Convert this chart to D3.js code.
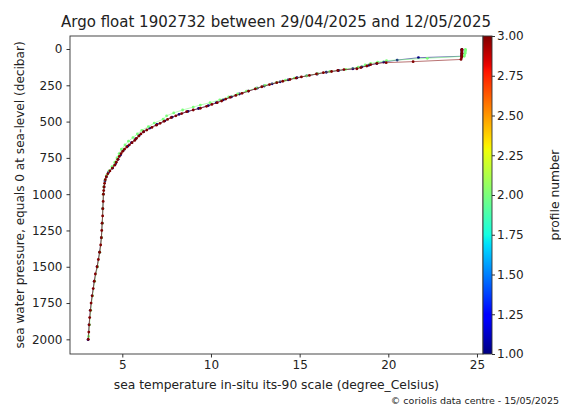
<!DOCTYPE html>
<html>
<head>
<meta charset="utf-8">
<script src="https://cdn.jsdelivr.net/npm/d3@7"></script>
<style>
  body { margin: 0; background: #fff; }
  text { font-family: "DejaVu Sans", sans-serif; fill: #222; }
</style>
</head>
<body>
<div id="chart"></div>
<script>
// profile numbers (colour of each profile on the jet colour bar)
const profileIds = [1, 2, 3];

// profile 1 : pressure (decibar) / temperature (degree_Celsius)
const pres1 = [2, 10, 20, 30, 40, 50, 60, 76, 90, 100, 112, 124, 136, 148, 160, 172, 185, 198, 212, 226,
  240, 255, 270, 290, 310, 330, 350, 370, 390, 410, 430, 450, 470, 495, 520, 545, 570, 595, 620, 645,
  670, 700, 730, 760, 790, 820, 850, 880, 910, 950, 1000, 1100, 1200, 1300, 1400, 1500, 1600, 1700,
  1800, 1900, 2002];
const temp1 = [24.15, 24.15, 24.15, 24.15, 24.14, 24.13, 21.7, 20.5, 19.74, 19.35, 18.9, 18.5, 18.0, 17.2, 16.5, 16.0, 15.4, 14.85, 14.35, 13.9,
  13.45, 13.0, 12.6, 12.1, 11.6, 11.15, 10.7, 10.3, 9.85, 9.3, 8.7, 8.2, 7.8, 7.4, 6.95, 6.55, 6.2, 5.95, 5.75, 5.52,
  5.3, 5.05, 4.9, 4.76, 4.62, 4.45, 4.22, 4.1, 4.02, 3.97, 3.94, 3.9, 3.87, 3.82, 3.72, 3.58, 3.42, 3.3,
  3.2, 3.13, 3.07];

// profile 2
const pres2 = [2, 10, 20, 30, 40, 50, 64, 80, 90, 100, 110, 125, 140, 155, 170, 185, 200, 215, 230, 250,
  270, 290, 310, 330, 350, 370, 386, 400, 420, 440, 460, 484, 510, 535, 560, 585, 610, 635, 661, 690,
  720, 750, 780, 810, 840, 870, 900, 950, 1000, 1100, 1200, 1300, 1400, 1500, 1600, 1700, 1800, 1900, 1980];
const temp2 = [24.35, 24.35, 24.34, 24.33, 24.3, 24.28, 22.2, 19.9, 19.4, 19.0, 18.7, 18.3, 17.6, 16.7, 16.0, 15.4, 14.7, 14.2, 13.7, 13.05,
  12.55, 12.0, 11.5, 11.0, 10.5, 9.95, 9.4, 9.0, 8.4, 7.9, 7.5, 7.3, 6.8, 6.47, 6.1, 5.85, 5.6, 5.35, 5.15, 4.95,
  4.82, 4.7, 4.58, 4.42, 4.25, 4.12, 4.03, 3.96, 3.93, 3.9, 3.87, 3.83, 3.73, 3.6, 3.44, 3.32, 3.22, 3.15, 3.1];

// profile 3
const pres3 = [2, 10, 20, 30, 40, 50, 60, 72, 87, 94, 99, 108, 117, 128, 136, 142, 148, 155, 163, 172,
  182, 192, 200, 210, 222, 232, 245, 260, 275, 290, 305, 320, 333, 345, 358, 370, 382, 395, 408, 420,
  432, 445, 460, 472, 485, 498, 512, 525, 540, 558, 570, 585, 600, 615, 630, 645, 660, 675, 690, 705,
  720, 740, 760, 780, 800, 820, 840, 860, 880, 900, 925, 950, 975, 1000, 1050, 1100, 1150, 1200, 1250,
  1300, 1350, 1400, 1450, 1500, 1550, 1600, 1650, 1700, 1750, 1800, 1850, 1900, 1950, 2000];
const temp3 = [24.15, 24.15, 24.15, 24.15, 24.14, 24.14, 24.13, 24.1, 21.4, 19.88, 19.36, 19.0, 18.79, 18.45, 18.23, 17.5, 17.15, 16.8, 16.34, 15.95,
  15.55, 15.1, 14.8, 14.45, 14.05, 13.71, 13.3, 12.87, 12.5, 12.12, 11.75, 11.4, 11.08, 10.83, 10.6, 10.35, 10.05, 9.75, 9.4, 9.0,
  8.63, 8.35, 8.02, 7.75, 7.55, 7.35, 7.13, 6.92, 6.67, 6.38, 6.2, 6.05, 5.93, 5.8, 5.7, 5.55, 5.4, 5.25, 5.12, 5.02,
  4.93, 4.83, 4.75, 4.66, 4.57, 4.44, 4.3, 4.18, 4.1, 4.04, 4.0, 3.97, 3.95, 3.93, 3.92, 3.9, 3.89, 3.86, 3.84,
  3.82, 3.78, 3.72, 3.65, 3.58, 3.48, 3.42, 3.36, 3.3, 3.24, 3.2, 3.16, 3.13, 3.11, 3.08];

// axis ticks
const xTicks = [5, 10, 15, 20, 25];
const yTicks = [0, 250, 500, 750, 1000, 1250, 1500, 1750, 2000];
const cTicks = [1.00, 1.25, 1.50, 1.75, 2.00, 2.25, 2.50, 2.75, 3.00];

const titleText = "Argo float 1902732 between 29/04/2025 and 12/05/2025";
const xLabel = "sea temperature in-situ its-90 scale (degree_Celsius)";
const yLabel = "sea water pressure, equals 0 at sea-level (decibar)";
const cLabel = "profile number";
const creditText = "\u00a9 coriolis data centre - 15/05/2025";

const profiles = [
  { id: profileIds[0], pres: pres1, temp: temp1 },
  { id: profileIds[1], pres: pres2, temp: temp2 },
  { id: profileIds[2], pres: pres3, temp: temp3 }
];

const W = 561, H = 406;
const margin = { top: 36, right: 78, bottom: 52, left: 70 };
const plotW = 413, plotH = 318;

const svg = d3.select("#chart").append("svg")
  .attr("width", W).attr("height", H);

const x = d3.scaleLinear().domain([2.05, 25.34]).range([margin.left, margin.left + plotW]);
const y = d3.scaleLinear().domain([-89.6, 2101]).range([margin.top, margin.top + plotH]);
const c = d3.scaleLinear().domain([1, 3]).range([margin.top + plotH, margin.top]);

// matplotlib "jet" colormap
const jetR = d3.scaleLinear().domain([0, 0.35, 0.66, 0.89, 1]).range([0, 0, 1, 1, 0.5]).clamp(true);
const jetG = d3.scaleLinear().domain([0, 0.125, 0.375, 0.64, 0.91, 1]).range([0, 0, 1, 1, 0, 0]).clamp(true);
const jetB = d3.scaleLinear().domain([0, 0.11, 0.34, 0.65, 1]).range([0.5, 1, 1, 0, 0]).clamp(true);
const jet = t => d3.rgb(jetR(t) * 255, jetG(t) * 255, jetB(t) * 255).formatHex();
const colorOf = id => jet((id - 1) / 2);

// profiles
const line = d3.line().x(d => x(d[1])).y(d => y(d[0]));
profiles.forEach(function(p) {
  const pts = p.pres.map((v, i) => [v, p.temp[i]]);
  const g = svg.append("g");
  g.append("path")
    .datum(pts)
    .attr("d", line)
    .attr("fill", "none")
    .attr("stroke", colorOf(p.id))
    .attr("stroke-opacity", 0.55)
    .attr("stroke-width", 1);
  g.selectAll("circle")
    .data(pts)
    .enter().append("circle")
      .attr("cx", d => x(d[1]))
      .attr("cy", d => y(d[0]))
      .attr("r", 1.4)
      .attr("fill", colorOf(p.id));
});

// frame
svg.append("rect")
  .attr("x", margin.left).attr("y", margin.top)
  .attr("width", plotW).attr("height", plotH)
  .attr("fill", "none").attr("stroke", "#333").attr("stroke-width", 0.9);

// x axis
const xAxis = svg.append("g")
  .attr("transform", `translate(0, ${margin.top + plotH})`)
  .call(d3.axisBottom(x).tickValues(xTicks).tickSize(3.5).tickPadding(3).tickFormat(d3.format("d")));
xAxis.select(".domain").remove();
xAxis.selectAll("line").attr("stroke", "#333");
xAxis.selectAll("text").attr("font-size", 12).attr("font-family", "DejaVu Sans").attr("fill", "#222");

// y axis
const yAxis = svg.append("g")
  .attr("transform", `translate(${margin.left}, 0)`)
  .call(d3.axisLeft(y).tickValues(yTicks).tickSize(3.5).tickPadding(4).tickFormat(d3.format("d")));
yAxis.select(".domain").remove();
yAxis.selectAll("line").attr("stroke", "#333");
yAxis.selectAll("text").attr("font-size", 12).attr("font-family", "DejaVu Sans").attr("fill", "#222");

// colour bar
const cbX = margin.left + plotW, cbW = 9;
const grad = svg.append("defs").append("linearGradient")
  .attr("id", "jetgrad").attr("x1", 0).attr("y1", 1).attr("x2", 0).attr("y2", 0);
d3.range(0, 1.0001, 1 / 64).forEach(t => {
  grad.append("stop").attr("offset", t).attr("stop-color", jet(t));
});
svg.append("rect")
  .attr("x", cbX).attr("y", margin.top)
  .attr("width", cbW).attr("height", plotH)
  .attr("fill", "url(#jetgrad)")
  .attr("stroke", "#333").attr("stroke-width", 0.9);

const cAxis = svg.append("g")
  .attr("transform", `translate(${cbX + cbW}, 0)`)
  .call(d3.axisRight(c).tickValues(cTicks).tickSize(3).tickPadding(2).tickFormat(d3.format(".2f")));
cAxis.select(".domain").remove();
cAxis.selectAll("line").attr("stroke", "#333");
cAxis.selectAll("text").attr("font-size", 12).attr("font-family", "DejaVu Sans").attr("fill", "#222");

// labels
svg.append("text")
  .attr("x", margin.left + plotW / 2 - 0.5).attr("y", 26.5)
  .attr("text-anchor", "middle").attr("font-size", 15)
  .text(titleText);

svg.append("text")
  .attr("x", margin.left + plotW / 2).attr("y", 388.5)
  .attr("text-anchor", "middle").attr("font-size", 12.3)
  .text(xLabel);

svg.append("text")
  .attr("transform", `translate(23.5, ${margin.top + plotH / 2}) rotate(-90)`)
  .attr("text-anchor", "middle").attr("font-size", 12.1)
  .text(yLabel);

svg.append("text")
  .attr("transform", `translate(${W - 2}, ${margin.top + plotH / 2}) rotate(-90)`)
  .attr("text-anchor", "middle").attr("font-size", 12.3)
  .text(cLabel);

svg.append("text")
  .attr("x", 559).attr("y", 403.5)
  .attr("text-anchor", "end").attr("font-size", 9.5)
  .text(creditText);
</script>
</body>
</html>
